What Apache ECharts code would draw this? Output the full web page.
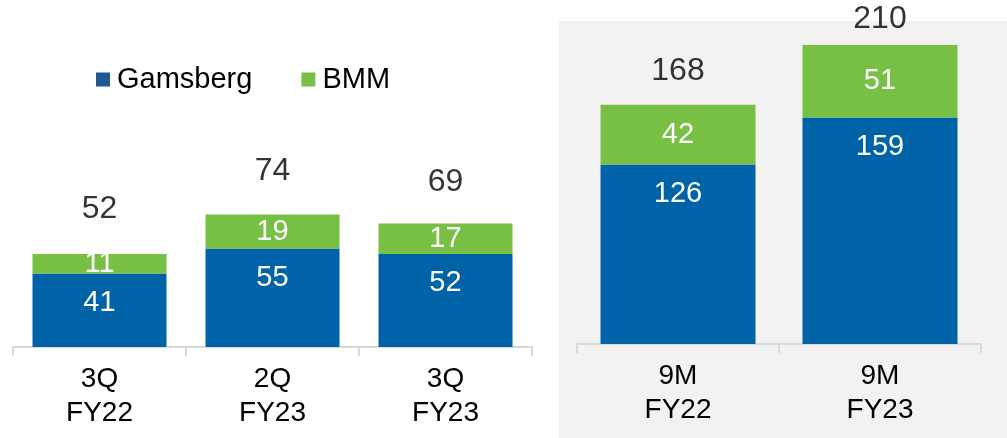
<!DOCTYPE html>
<html lang="en">
<head>
    <meta charset="UTF-8">
    <title>Gamsberg / BMM</title>
    <script src="https://cdn.jsdelivr.net/npm/echarts@6/dist/echarts.min.js"></script>
    <style>
        html, body { margin: 0; padding: 0; background: #fff; }
        #chart { width: 1007px; height: 438px; }
    </style>
</head>
<body>
    <div id="chart"></div>
    <script>
        // quarterly panel
        const quarterCats = ['3Q\nFY22', '2Q\nFY23', '3Q\nFY23'];
        const quarterGamsberg = [41, 55, 52];
        const quarterBMM = [11, 19, 17];
        const quarterTotals = [52, 74, 69];

        // nine-month panel
        const nineCats = ['9M\nFY22', '9M\nFY23'];
        const nineGamsberg = [126, 159];
        const nineBMM = [42, 51];
        const nineTotals = [168, 210];

        // gap between bar top and total label (px)
        const quarterTotalGap = [29, 27, 25];
        const nineTotalGap = [18, 10];

        const BLUE = '#0063a8';
        const GREEN = '#77c044';
        const FONT = '"Liberation Sans", Arial, sans-serif';

        const axisX = (idx, data) => ({
            type: 'category',
            gridIndex: idx,
            data: data,
            axisLine: { lineStyle: { color: '#d9d9d9', width: 2 } },
            axisTick: { show: true, length: 9, lineStyle: { color: '#d9d9d9', width: 2 } },
            axisLabel: { color: '#000', fontSize: 28, lineHeight: 34, margin: 15, fontFamily: FONT }
        });

        const axisY = (idx, max) => ({
            type: 'value',
            gridIndex: idx,
            min: 0,
            max: max,
            show: false
        });

        const blueLabel = {
            show: true,
            position: 'insideTop',
            distance: 15,
            color: '#fff',
            fontSize: 29,
            fontFamily: FONT
        };
        const greenLabel = {
            show: true,
            position: 'inside',
            color: '#fff',
            fontSize: 29,
            fontFamily: FONT
        };

        const totalPoints = (totals, gaps) => totals.map((v, i) => ({
            value: v,
            label: { distance: gaps[i] }
        }));

        const totalSeries = (idx, totals, gaps) => ({
            name: 'Total',
            type: 'scatter',
            xAxisIndex: idx,
            yAxisIndex: idx,
            symbolSize: 0,
            label: {
                show: true,
                position: 'top',
                color: '#000',
                fontSize: 32,
                fontFamily: FONT
            },
            data: totalPoints(totals, gaps)
        });

        const chart = echarts.init(document.getElementById('chart'));
        chart.setOption({
            animation: false,
            textStyle: { fontFamily: FONT },
            graphic: [{
                type: 'rect',
                z: -10,
                shape: { x: 559, y: 21, width: 448, height: 417 },
                style: { fill: '#f2f2f2' }
            }],
            legend: {
                left: 91,
                top: 60,
                itemWidth: 14,
                itemHeight: 14,
                itemGap: 49,
                icon: 'rect',
                textStyle: { color: '#000', fontSize: 29, fontFamily: FONT, padding: [0, 0, 0, 2] },
                data: [
                    { name: 'Gamsberg', itemStyle: { color: '#22578f' } },
                    { name: 'BMM', itemStyle: { color: GREEN } }
                ]
            },
            grid: [
                { left: 13, width: 519, top: 168, bottom: 91 },
                { left: 577, width: 404, top: 45, bottom: 94 }
            ],
            xAxis: [axisX(0, quarterCats), axisX(1, nineCats)],
            yAxis: [axisY(0, 100), axisY(1, 210)],
            series: [
                {
                    name: 'Gamsberg', type: 'bar', stack: 'q', xAxisIndex: 0, yAxisIndex: 0,
                    barWidth: 134, itemStyle: { color: BLUE }, label: blueLabel,
                    data: quarterGamsberg
                },
                {
                    name: 'BMM', type: 'bar', stack: 'q', xAxisIndex: 0, yAxisIndex: 0,
                    barWidth: 134, itemStyle: { color: GREEN }, label: greenLabel,
                    data: quarterBMM
                },
                totalSeries(0, quarterTotals, quarterTotalGap),
                {
                    name: 'Gamsberg', type: 'bar', stack: 'n', xAxisIndex: 1, yAxisIndex: 1,
                    barWidth: 155, itemStyle: { color: BLUE }, label: blueLabel,
                    data: nineGamsberg
                },
                {
                    name: 'BMM', type: 'bar', stack: 'n', xAxisIndex: 1, yAxisIndex: 1,
                    barWidth: 155, itemStyle: { color: GREEN }, label: greenLabel,
                    data: nineBMM
                },
                totalSeries(1, nineTotals, nineTotalGap)
            ]
        });
    </script>
</body>
</html>
